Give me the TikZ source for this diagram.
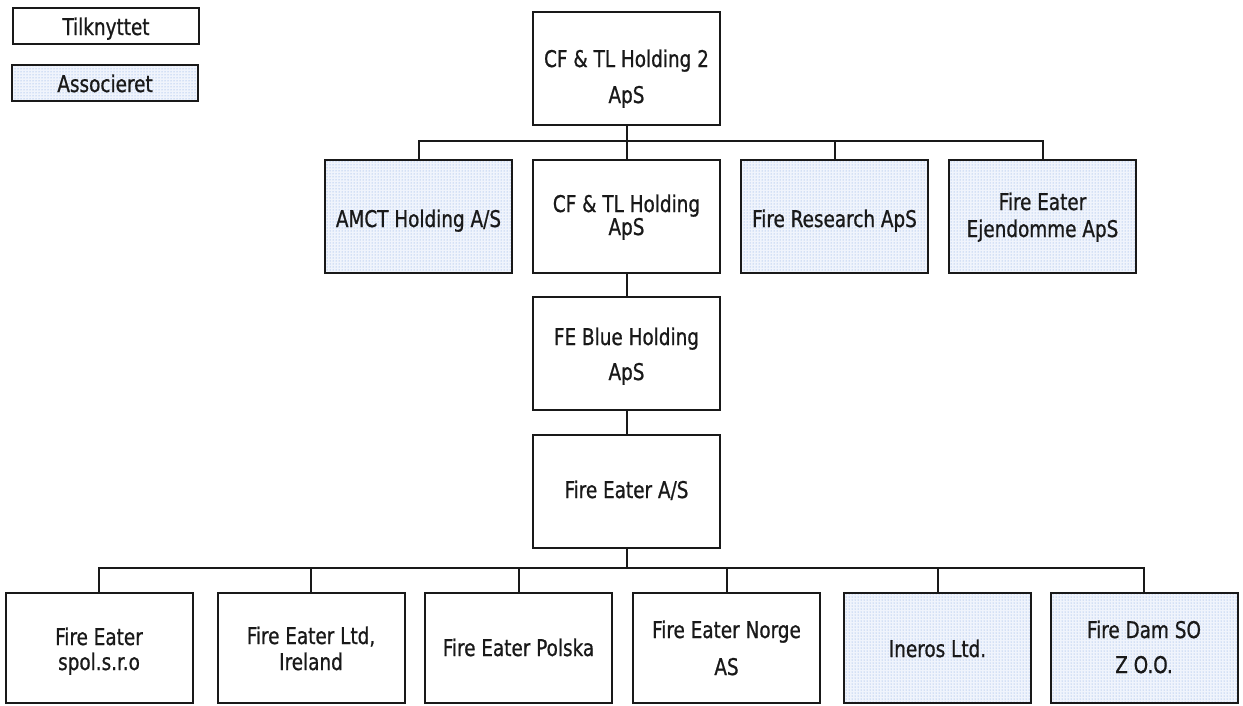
\documentclass[tikz,border=0pt]{standalone}
\usepackage{fontspec}
\setmainfont{DejaVu Sans Condensed}[FakeBold=0.8, FakeStretch=0.89]
\usetikzlibrary{patterns}
\definecolor{inkc}{RGB}{25,25,25}
\definecolor{txtc}{RGB}{25,25,25}
\definecolor{dotc}{RGB}{120,160,225}
\definecolor{tintc}{RGB}{240,244,252}
\begin{document}
\begin{tikzpicture}[x=1pt,y=-1pt,
  box/.style={draw=inkc, line width=2pt, minimum width=187pt, minimum height=113pt,
    inner sep=0pt},
  dotfill/.style={preaction={fill=tintc}, pattern=dots, pattern color=dotc},
  assoc/.style={box, dotfill},
  lowbox/.style={minimum height=110pt},
  legbox/.style={box, minimum width=186pt, minimum height=36pt},
  lbl/.style={anchor=base, inner sep=0pt, text=txtc, font=\fontsize{23}{27}\selectfont},
  conn/.style={draw=inkc, line width=2pt}]
\useasboundingbox (0,0) rectangle (1243,705);
% legend
\node[legbox] (legA) at (106,26) {};
\node[lbl] (legAt) at (106,35) {Tilknyttet};
\node[legbox, dotfill] (legB) at (105,83) {};
\node[lbl] (legBt) at (105,92) {Associeret};
% top
\node[box] (top) at (626.5,68.5) {};
\node[lbl] (top1) at (626.5,67) {CF \& TL Holding 2};
\node[lbl] (top2) at (626.5,103) {ApS};
% row 2
\node[assoc] (amct) at (418.5,216.5) {};
\node[lbl] (amct1) at (418.5,227) {AMCT Holding A/S};
\node[box] (cftl) at (626.5,216.5) {};
\node[lbl] (cftl1) at (626.5,212) {CF \& TL Holding};
\node[lbl] (cftl2) at (626.5,235) {ApS};
\node[assoc] (fres) at (834.5,216.5) {};
\node[lbl] (fres1) at (834.5,227) {Fire Research ApS};
\node[assoc] (fejd) at (1042.5,216.5) {};
\node[lbl] (fejd1) at (1042.5,210) {Fire Eater};
\node[lbl] (fejd2) at (1042.5,237) {Ejendomme ApS};
% middle
\node[box] (feb) at (626.5,353.5) {};
\node[lbl] (feb1) at (626.5,345) {FE Blue Holding};
\node[lbl] (feb2) at (626.5,380) {ApS};
\node[box] (fe) at (626.5,491) {};
\node[lbl] (fe1) at (626.5,498) {Fire Eater A/S};
% bottom
\node[box,lowbox] (b1) at (99,648) {};
\node[lbl] (b1a) at (99,645) {Fire Eater};
\node[lbl] (b1b) at (99,670) {spol.s.r.o};
\node[box,lowbox] (b2) at (311,648) {};
\node[lbl] (b2a) at (311,644) {Fire Eater Ltd,};
\node[lbl] (b2b) at (311,670) {Ireland};
\node[box,lowbox] (b3) at (518.5,648) {};
\node[lbl] (b3a) at (518.5,656) {Fire Eater Polska};
\node[box,lowbox] (b4) at (726.5,648) {};
\node[lbl] (b4a) at (726.5,638) {Fire Eater Norge};
\node[lbl] (b4b) at (726.5,675) {AS};
\node[assoc,lowbox] (b5) at (937.5,648) {};
\node[lbl] (b5a) at (937.5,657) {Ineros Ltd.};
\node[assoc,lowbox] (b6) at (1144,648) {};
\node[lbl] (b6a) at (1144,638) {Fire Dam SO};
\node[lbl] (b6b) at (1144,673) {Z O.O.};
% bars
\coordinate (bar1) at (626.5,141);
\coordinate (bar2) at (626.5,568);
% connectors
\draw[conn] (top.south) -- (bar1);
\draw[conn] (amct.north) |- (bar1) -| (fejd.north);
\draw[conn] (cftl.north) -- (cftl.north |- bar1);
\draw[conn] (fres.north) -- (fres.north |- bar1);
\draw[conn] (cftl.south) -- (feb.north);
\draw[conn] (feb.south) -- (fe.north);
\draw[conn] (fe.south) -- (bar2);
\draw[conn] (b1.north) |- (bar2) -| (b6.north);
\draw[conn] (b2.north) -- (b2.north |- bar2);
\draw[conn] (b3.north) -- (b3.north |- bar2);
\draw[conn] (b4.north) -- (b4.north |- bar2);
\draw[conn] (b5.north) -- (b5.north |- bar2);
\end{tikzpicture}
\end{document}
